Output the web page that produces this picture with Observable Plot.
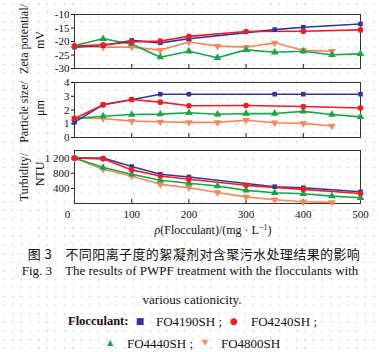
<!DOCTYPE html>
<html><head><meta charset="utf-8">
<script src="https://cdn.jsdelivr.net/npm/d3@7"></script>
<script src="https://cdn.jsdelivr.net/npm/@observablehq/plot@0.6"></script>
<style>
body{margin:0;background:#fff;}
#root{position:relative;width:379px;height:352px;overflow:hidden;font-family:"Liberation Serif","Times New Roman",serif;color:#111;
 background-image:radial-gradient(circle,#d4d4d4 0.7px,transparent 1.1px);background-size:8.6px 8.6px;}
.abs{position:absolute;white-space:nowrap;line-height:1;}
.ylab{position:absolute;transform:translate(-50%,-50%) rotate(-90deg);font-size:12px;white-space:nowrap;line-height:1;}
#root svg{position:absolute;left:0;overflow:visible;}
</style></head><body><div id="root"></div>
<script>
// flocculant dosage (mg/L) per series
const X_FO4190 = [0, 50, 100, 150, 200, 350, 400, 500];
const X_FO4240 = [0, 50, 100, 150, 200, 300, 400, 500];
const X_FO4440 = [0, 50, 100, 150, 200, 250, 300, 350, 400, 450, 500];
const X_FO4800 = [0, 50, 100, 150, 200, 250, 300, 350, 400, 450];

// Zeta potential (mV)
const ZETA_FO4190 = [-22.1, -21.5, -19.6, -20.5, -19.0, -15.6, -14.7, -13.5];
const ZETA_FO4240 = [-21.7, -21.2, -20.2, -19.8, -18.1, -16.3, -16.2, -15.7];
const ZETA_FO4440 = [-21.5, -19.0, -20.9, -25.8, -23.6, -26.0, -23.1, -24.0, -23.6, -24.9, -24.6];
const ZETA_FO4800 = [-21.7, -22.1, -22.1, -23.2, -20.2, -21.7, -22.1, -20.5, -23.3, -23.6];

// Particle size (μm)
const SIZE_FO4190 = [1.1, 2.4, 2.75, 3.15, 3.15, 3.15, 3.15, 3.15];
const SIZE_FO4240 = [1.38, 2.37, 2.76, 2.57, 2.31, 2.33, 2.26, 2.14];
const SIZE_FO4440 = [1.38, 1.55, 1.67, 1.7, 1.8, 1.69, 1.74, 1.74, 1.9, 1.67, 1.5];
const SIZE_FO4800 = [1.43, 1.38, 1.19, 1.14, 1.1, 1.1, 1.26, 1.07, 1.03, 0.84];

// Turbidity (NTU)
const TURB_FO4190 = [1200, 1200, 976, 773, 702, 444, 417, 310];
const TURB_FO4240 = [1200, 1180, 888, 728, 640, 480, 373, 266];
const TURB_FO4440 = [1200, 950, 773, 613, 533, 462, 346, 284, 257, 195, 150];
const TURB_FO4800 = [1200, 906, 728, 506, 417, 290, 175, 100, 45, 30];

const NAMES = ["FO4190SH", "FO4240SH", "FO4440SH", "FO4800SH"];
const COLORS = ["#35359c", "#ee1c25", "#17a54a", "#f7865d"];

// tick values
const ZETA_TICKS = [-30, -25, -20, -15, -10];
const SIZE_TICKS = [0, 1, 2, 3, 4];
const TURB_TICKS = [400, 800, 1200];
const X_TICKS = [0, 100, 200, 300, 400, 500];
const X_INNER_TICKS = [100, 200, 300, 400];

const triangleDown = {
  draw(context, size) {
    const t = Math.sqrt(size / (Math.sqrt(3) * 3));
    context.moveTo(0, 2 * t);
    context.lineTo(Math.sqrt(3) * t, -t);
    context.lineTo(-Math.sqrt(3) * t, -t);
    context.closePath();
  }
};
const SYMBOLS = ["square", "circle", "triangle", triangleDown];
const RADII = [2.6, 2.8, 2.8, 2.8];

function rows(xs, ys) { return xs.map((x, i) => ({x, v: ys[i]})); }
const XS = [X_FO4190, X_FO4240, X_FO4440, X_FO4800];
const ZETA = [ZETA_FO4190, ZETA_FO4240, ZETA_FO4440, ZETA_FO4800];
const SIZE = [SIZE_FO4190, SIZE_FO4240, SIZE_FO4440, SIZE_FO4800];
const TURB = [TURB_FO4190, TURB_FO4240, TURB_FO4440, TURB_FO4800];
const ORDER = [3, 2, 0, 1];

const root = document.getElementById("root");

function panel({top, mt, frameH, mb, values, yDomain, yTicks, yFmt, bottom}) {
  const marks = [
    Plot.frame({stroke: "#333", strokeWidth: 1}),
    Plot.ruleX(X_INNER_TICKS, {x: d => d, insetTop: frameH - 4, stroke: "#222", strokeWidth: 1}),
    Plot.axisY({ticks: yTicks, tickSize: 3, tickPadding: 2, tickFormat: yFmt, fontSize: 11, label: null})
  ];
  for (const i of ORDER) {
    const data = rows(XS[i], values[i]);
    marks.push(Plot.line(data, {x: "x", y: "v", stroke: COLORS[i], strokeWidth: 1.6}));
  }
  for (const i of ORDER) {
    const data = rows(XS[i], values[i]);
    marks.push(Plot.dot(data, {x: "x", y: "v", fill: COLORS[i], stroke: "none", symbol: SYMBOLS[i], r: RADII[i]}));
  }
  if (bottom) {
    marks.push(Plot.axisX(X_TICKS.filter(d => d > 0), {tickSize: 0, tickPadding: 7, fontSize: 11, label: null}));
    marks.push(Plot.axisX([0], {tickSize: 0, tickPadding: 7, fontSize: 11, dx: -7, label: null}));
  }
  const svg = Plot.plot({
    width: 379,
    height: mt + frameH + mb,
    marginLeft: 74, marginRight: 19, marginTop: mt, marginBottom: mb,
    style: {background: "transparent", fontFamily: "'Liberation Serif', serif", color: "#111"},
    x: {domain: [0, 500], label: null, axis: bottom ? undefined : null},
    y: {domain: yDomain, label: null},
    marks
  });
  svg.style.top = top + "px";
  root.appendChild(svg);
}

panel({top: 0, mt: 14, frameH: 54, mb: 6, values: ZETA, yDomain: [-30, -10], yTicks: ZETA_TICKS, yFmt: d => String(d)});
panel({top: 74, mt: 8, frameH: 55, mb: 6, values: SIZE, yDomain: [0, 4], yTicks: SIZE_TICKS, yFmt: d => String(d)});
panel({top: 143, mt: 7, frameH: 53, mb: 40, values: TURB, yDomain: [0, 1400], yTicks: TURB_TICKS, yFmt: d => d >= 1000 ? d3.format(",")(d).replace(",", " ") : String(d), bottom: true});

function add(html, cls, style) {
  const el = document.createElement("div");
  el.className = cls;
  el.innerHTML = html;
  Object.assign(el.style, style);
  root.appendChild(el);
  return el;
}
// y-axis titles
add("Zeta potential/", "ylab", {left: "24px", top: "39px"});
add("mV", "ylab", {left: "40px", top: "40px"});
add("Particle size/", "ylab", {left: "24px", top: "112px"});
add("μm", "ylab", {left: "40px", top: "108px"});
add("Turbidity/", "ylab", {left: "24px", top: "177px"});
add("NTU", "ylab", {left: "40px", top: "174px"});
// x-axis title
add("<i>ρ</i>(Flocculant)/(mg · L<sup style='font-size:8px;vertical-align:4px'>−1</sup>)", "abs", {left: "213px", top: "230px", transform: "translate(-50%,-50%)", fontSize: "12px"});
// captions
add("图 3　不同阳离子度的絮凝剂对含聚污水处理结果的影响", "abs", {left: "194px", top: "253px", transform: "translate(-50%,-50%)", fontSize: "13px", fontFamily: "'Noto Sans CJK SC', sans-serif", letterSpacing: "0.4px"});
add("Fig. 3&nbsp;&nbsp;&nbsp;&nbsp;The results of PWPF treatment with the flocculants with", "abs", {left: "190px", top: "270px", transform: "translate(-50%,-50%)", fontSize: "13px"});
add("various cationicity.", "abs", {left: "192px", top: "299px", transform: "translate(-50%,-50%)", fontSize: "13px"});
// legend
const legendRows = [
  {y: 321, items: [[0, 140, 156], [1, 234, 251]]},
  {y: 343, items: [[2, 110, 127], [3, 205, 221]]}
];
add("<b>Flocculant:</b>", "abs", {left: "68px", top: "321px", transform: "translateY(-50%)", fontSize: "12.5px"});
const GLYPHS = ["■", "●", "▲", "▼"];
const GSIZE = ["9px", "9px", "8px", "8px"];
legendRows.forEach(r => r.items.forEach(([i, gx, tx]) => {
  add(GLYPHS[i], "abs", {left: gx + "px", top: r.y + "px", transform: "translate(-50%,-50%)", fontSize: GSIZE[i], color: COLORS[i], fontFamily: "'DejaVu Sans', sans-serif"});
  add(NAMES[i] + (i < 3 ? " ;" : ""), "abs", {left: tx + "px", top: r.y + "px", transform: "translateY(-50%)", fontSize: "13px"});
}));
</script></body></html>
